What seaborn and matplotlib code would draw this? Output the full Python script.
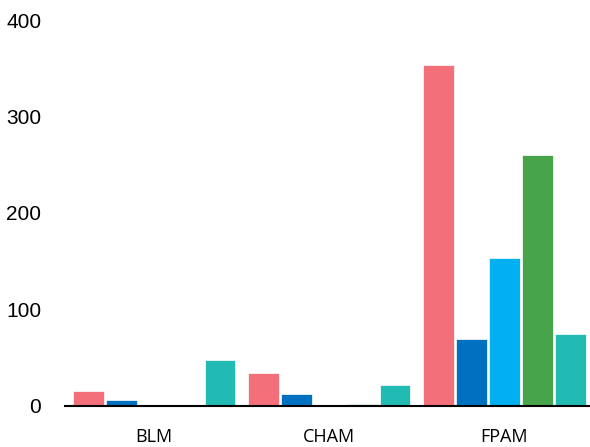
import matplotlib
matplotlib.use("Agg")
import matplotlib.pyplot as plt
import seaborn as sns
import pandas as pd

categories = ["BLM", "CHAM", "FPAM"]
series = ["S1", "S2", "S3", "S4", "S5"]
values = {
    "S1": [15, 34, 353],
    "S2": [6, 12, 69],
    "S3": [0, 0, 153],
    "S4": [0, 2, 260],
    "S5": [48, 22, 75],
}
colors = ["#F3707B", "#0070C0", "#00B0F0", "#47A44A", "#22BBB4"]

rows = []
for s in series:
    for c, v in zip(categories, values[s]):
        rows.append({"category": c, "series": s, "value": v})
df = pd.DataFrame(rows)

sns.set_style("white")
fig = plt.figure(figsize=(5.9, 4.47), dpi=100)
ax = fig.add_axes([0.11, 0.092, 0.89, 0.863])

sns.barplot(data=df, x="category", y="value", hue="series", palette=colors,
            saturation=1, width=0.94, gap=0.06, edgecolor="white",
            linewidth=0.5, legend=False, ax=ax)

ax.set_xlim(-0.51, 2.49)
ax.set_ylim(0, 400)
ax.set_yticks([0, 100, 200, 300, 400])
ax.set_xlabel("")
ax.set_ylabel("")
for side in ["top", "right", "left"]:
    ax.spines[side].set_visible(False)
ax.spines["bottom"].set_color("black")
ax.spines["bottom"].set_linewidth(1.5)
ax.tick_params(axis="both", length=0, labelcolor="black")
ax.tick_params(axis="y", pad=17)
ax.tick_params(axis="x", pad=16)
for lab in ax.get_yticklabels():
    lab.set_fontfamily("Liberation Sans")
    lab.set_fontsize(15)
for lab in ax.get_xticklabels():
    lab.set_fontfamily("Open Sans")
    lab.set_fontsize(13)

fig.savefig("out.png", dpi=100)
